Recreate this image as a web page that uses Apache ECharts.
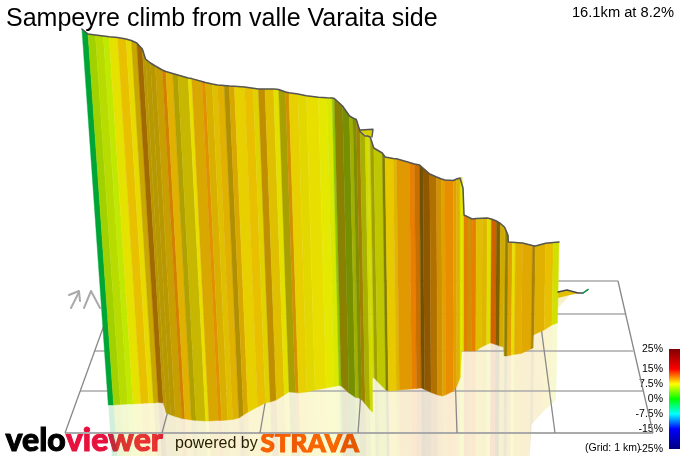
<!DOCTYPE html>
<html>
<head>
<meta charset="utf-8">
<title>Sampeyre climb</title>
<style>
  html, body { margin: 0; padding: 0; background: #fff; }
  #chart { width: 681px; height: 456px; }
</style>
<script src="https://cdn.jsdelivr.net/npm/echarts@6/dist/echarts.min.js"></script>
</head>
<body>
<div id="chart"></div>
<script>
// picture position of each wall station, measured along the row y = 280
const stationX = [99.5, 105, 112, 119.5, 125, 133, 141, 146, 151, 156, 158.5, 163, 167.5, 174, 177.3, 183.8, 188.7, 198.5, 201.8, 211.6, 214.9, 221.4, 226.3, 232.8, 237.7, 242.6, 252.4, 260.7, 265.6, 272, 280.3, 285.2, 291.7, 295, 303.5, 311.8, 323.3, 331.5, 336.5, 338.7, 346.4, 353, 356.2, 359.5, 362.9, 367.8, 370, 370.6, 372.7, 376, 384.2, 386.9, 394.8, 398, 410.6, 415.5, 420.5, 423.8, 430.4, 437, 442, 445.2, 453.4, 456.7, 460, 461.7, 463, 464, 468, 472, 476, 482, 487, 491, 496, 500, 504, 505, 507.5, 508, 512, 515, 522, 532, 533.7, 534, 535, 545, 552.7, 558.3]
const stationTop = [29, 34, 35, 36, 36.7, 37.5, 39, 40.5, 43, 49, 59, 63, 66, 70, 71.5, 73.5, 75, 78, 78.6, 81.5, 82.5, 84, 85, 85.5, 86, 86.2, 87, 88.2, 89, 89, 89, 89.5, 92, 92.8, 94, 95.8, 97.2, 97.8, 98, 98.5, 106, 116, 118, 119.5, 131.5, 136, 136, 136, 137, 148, 153, 157, 158.5, 158.8, 162.5, 164, 165, 168, 174, 177, 179, 180, 180.5, 179, 178, 177, 188, 215, 217, 219, 218.6, 218.2, 218, 219, 221, 223.5, 227, 228, 235, 242, 242.3, 242.5, 243, 245.5, 246, 246, 246, 243.3, 242.5, 242]
const stationBottom = [405, 405, 404.5, 404, 404, 403.5, 403, 403, 402.5, 403, 413, 415, 416.5, 418.5, 419, 420, 420.5, 421, 421, 420.5, 420.5, 420, 419.5, 418, 415, 412, 407, 403, 402, 400, 395, 392, 392.5, 393, 392, 390, 388, 386.5, 385.5, 386, 393, 397.5, 398, 400, 404, 410, 412, 378, 378, 382, 390, 391, 390.5, 390, 389, 388.5, 388, 389.5, 392.5, 395, 396, 395, 391, 386, 378, 351, 351, 351, 351, 351, 351, 347, 344.5, 343, 344.5, 346, 347, 356, 356, 356, 355, 354.5, 353.5, 349, 348, 335, 334.5, 330, 325, 323]
const reflectionBottom = [456, 456, 456, 456, 456, 456, 456, 456, 456, 456, 456, 456, 456, 456, 456, 456, 456, 456, 456, 456, 456, 456, 456, 456, 456, 456, 456, 456, 456, 456, 456, 456, 456, 456, 456, 456, 456, 456, 456, 456, 456, 456, 456, 456, 456, 456, 456, 456, 456, 456, 456, 456, 456, 456, 456, 456, 456, 456, 456, 456, 456, 456, 456, 456, 456, 456, 456, 456, 456, 456, 456, 456, 456, 456, 456, 456, 456, 456, 456, 456, 456, 456, 456, 456, 424, 424, 423, 412, 405, 400]
// gradient (%) and light on the strip that starts at each station
const stripGrade = [-2.4, 5.8, 6.3, 6.2, 7.6, 8.8, 8, 8.7, 10.1, 8.8, 8.8, 8.8, 9, 10.4, 9.1, 8.2, 8.1, 7.8, 9.2, 10.2, 8.9, 8.6, 9.1, 8.9, 9.2, 8.3, 8.8, 8, 9.4, 8.6, 7.6, 7.9, 9.8, 8.3, 7.9, 7.8, 7.4, 7, 5.4, 8, 6.2, 6.8, 6.7, 9, 7.2, 7.2, 7.2, 7.2, 7.5, 7.2, 7.5, 8.5, 8.9, 9.9, 10.9, 10.8, 9.6, 10.4, 10.2, 9.8, 9.6, 10.4, 9.6, 9.1, 7.5, 7.5, 7.5, 10.7, 9.8, 10.9, 8.6, 8.9, 7.5, 11.5, 9.4, 8.9, 8.9, 8.3, 8.3, 9.6, 7.8, 9.2, 9.4, 9.2, 9.2, 9.2, 9.1, 8.8, 7]
const stripLight = [0.65, 0.82, 0.86, 0.91, 0.9, 0.91, 0.91, 0.78, 0.63, 0.72, 0.72, 0.72, 0.78, 0.82, 0.88, 0.69, 0.78, 0.91, 0.85, 0.88, 0.85, 0.88, 0.88, 0.69, 0.85, 0.91, 0.91, 0.88, 0.75, 0.88, 0.89, 0.66, 0.82, 0.91, 0.89, 0.91, 0.91, 0.91, 0.78, 0.54, 0.56, 0.69, 0.56, 0.63, 0.69, 0.85, 0.85, 0.85, 0.63, 0.78, 0.5, 0.91, 0.88, 0.88, 0.91, 0.78, 0.44, 0.56, 0.69, 0.82, 0.88, 0.91, 0.88, 0.88, 0.88, 0.88, 0.88, 0.88, 0.82, 0.91, 0.88, 0.88, 0.88, 0.82, 0.5, 0.82, 0.82, 0.56, 0.56, 0.88, 0.91, 0.89, 0.88, 0.65, 0.65, 0.65, 0.88, 0.91, 0.88]

const wedgeX = [360, 373, 372, 367, 361]
const wedgeY = [130, 129.3, 137, 136, 131.5]
const tailX = [558, 567, 578, 583, 588]
const tailY = [292, 290, 293, 293, 289.5]
const tailFillX = [558, 567, 578, 570, 558]
const tailFillY = [292, 290.5, 293.5, 295, 298]
const tailReflectX = [558, 570, 558]
const tailReflectY = [298, 295, 308]

const gridBottomX = [65, 162, 260, 358, 457, 555, 653]
const gridTopX = [120, 203, 286, 369, 452, 535, 618]
const gridRowY = [433, 391, 351, 314, 281]
const gridRowLeft = [65, 80, 95, 108, 120]
const gridRowRight = [653, 643, 633, 625, 618]

const arrowStemX = [71, 79]
const arrowStemY = [308, 292]
const arrowHeadX = [69, 79, 80]
const arrowHeadY = [295, 291, 301]
const peakX = [84, 91, 100]
const peakY = [308, 291, 308]

const scaleGrades = [25, 15, 7.5, 0, -7.5, -15, -25]

// the wall strips lean towards a point far below the picture
const wallAt = (x, y) => 462 + (x - 462) * (5451 - y) / 5171

const gradeColor = (g, light) => {
  let r = 0
  let gr = 0
  let b = 0
  if (g >= 15) { r = 1 - (g - 15) / 20 }
  else if (g >= 7.5) { r = 1; gr = (15 - g) / 7.5 }
  else if (g >= 0) { r = g / 7.5; gr = 1 }
  else if (g >= -7.5) { gr = 1; b = -g / 7.5 }
  else if (g >= -15) { gr = (15 + g) / 7.5; b = 1 }
  else { b = 1 + (g + 15) / 20 }
  const c = v => Math.round(v * light * 255)
  return `rgb(${c(r)},${c(gr)},${c(b)})`
}

const stripRows = stripGrade.map((g, i) => [
  stationX[i], stationX[i + 1],
  stationTop[i], stationTop[i + 1],
  stationBottom[i], stationBottom[i + 1],
  reflectionBottom[i], reflectionBottom[i + 1],
  g, stripLight[i],
])

const quad = (api, xa, xb, ya, yb, yc, yd) => [
  api.coord([wallAt(xa, ya), ya]),
  api.coord([wallAt(xb, yb), yb]),
  api.coord([wallAt(xb, yc), yc]),
  api.coord([wallAt(xa, yd), yd]),
]

const renderWall = (params, api) => {
  const color = gradeColor(api.value(8), api.value(9))
  return {
    type: 'polygon',
    shape: { points: quad(api, api.value(0), api.value(1), api.value(2), api.value(3), api.value(5), api.value(4)) },
    style: { fill: color, stroke: color, lineWidth: 0.4 },
  }
}

const renderReflection = (params, api) => ({
  type: 'polygon',
  shape: { points: quad(api, api.value(0), api.value(1), api.value(4), api.value(5), api.value(7), api.value(6)) },
  style: { fill: gradeColor(api.value(8), api.value(9)), opacity: 0.18 },
})

const zip = (xs, ys) => xs.map((x, i) => [x, ys[i]])

const fillSeries = (xs, ys, fill) => ({
  type: 'custom',
  silent: true,
  data: [0],
  renderItem: (params, api) => ({
    type: 'polygon',
    shape: { points: zip(xs, ys).map(p => api.coord(p)) },
    style: { fill },
  }),
})

const lineSeries = (data, color, width) => ({
  type: 'line',
  silent: true,
  symbol: 'none',
  data,
  lineStyle: { color, width, cap: 'round', join: 'round' },
})

const gridLines = [
  ...gridRowY.map((y, i) => ({ a: [gridRowLeft[i], y], b: [gridRowRight[i], y], color: '#aaa', width: i === 0 ? 2 : 1.6 })),
  ...gridBottomX.map((x, i) => ({ a: [x, gridRowY[0]], b: [gridTopX[i], gridRowY[4]], color: '#888', width: 1.3 })),
]

const colorStops = scaleGrades.map(g => ({ offset: (25 - g) / 50, color: gradeColor(g, 1) }))

const option = {
  animation: false,
  backgroundColor: '#fff',
  title: [
    {
      text: 'Sampeyre climb from valle Varaita side',
      left: 6,
      top: 7,
      padding: 0,
      textStyle: { fontFamily: 'Liberation Sans', fontSize: 25, fontWeight: 'normal', color: '#000' },
    },
    {
      text: '16.1km at 8.2%',
      right: 7,
      top: 5,
      padding: 0,
      textStyle: { fontFamily: 'Liberation Sans', fontSize: 14.7, fontWeight: 'normal', color: '#000' },
    },
  ],
  grid: [
    { left: 0, right: 0, top: 0, bottom: 0 },
    { left: 669, width: 11, top: 349, height: 100 },
  ],
  xAxis: [
    { type: 'value', min: 0, max: 681, show: false },
    { type: 'value', gridIndex: 1, min: 0, max: 1, show: false },
  ],
  yAxis: [
    { type: 'value', min: 0, max: 456, inverse: true, show: false },
    {
      type: 'value',
      gridIndex: 1,
      min: -25,
      max: 25,
      axisLine: { show: false },
      axisTick: { show: false },
      splitLine: { show: false },
      axisLabel: {
        customValues: scaleGrades,
        margin: 6,
        formatter: v => `${v}%`,
        fontFamily: 'Liberation Sans',
        fontSize: 10.5,
        color: '#000',
      },
    },
  ],
  series: [
    { type: 'custom', silent: true, clip: false, data: stripRows, renderItem: renderReflection },
    {
      type: 'custom',
      silent: true,
      data: gridLines,
      renderItem: (params) => {
        const l = gridLines[params.dataIndex]
        return {
          type: 'line',
          shape: { x1: l.a[0], y1: l.a[1], x2: l.b[0], y2: l.b[1] },
          style: { stroke: l.color, lineWidth: l.width },
        }
      },
    },
    lineSeries(zip(arrowStemX, arrowStemY), '#aaa', 2),
    lineSeries(zip(arrowHeadX, arrowHeadY), '#aaa', 2),
    lineSeries(zip(peakX, peakY), '#aaa', 2),
    fillSeries(tailReflectX, tailReflectY, '#f6f1c8'),
    fillSeries(tailFillX, tailFillY, '#e0c000'),
    lineSeries(zip(tailX, tailY), '#444', 1.3),
    lineSeries(zip(tailX.slice(3), tailY.slice(3)), '#10a050', 1.5),
    fillSeries(wedgeX, wedgeY, '#d8d000'),
    lineSeries(zip(wedgeX.slice(0, 3), wedgeY.slice(0, 3)), '#555', 1.4),
    { type: 'custom', silent: true, clip: false, data: stripRows, renderItem: renderWall },
    lineSeries(stationX.map((x, i) => [wallAt(x, stationTop[i]), stationTop[i]]), '#555', 1.5),
    {
      type: 'custom',
      silent: true,
      xAxisIndex: 1,
      yAxisIndex: 1,
      data: [[0, 1, -25, 25]],
      renderItem: (params, api) => {
        const a = api.coord([api.value(0), api.value(3)])
        const b = api.coord([api.value(1), api.value(2)])
        return {
          type: 'rect',
          shape: { x: a[0], y: a[1], width: b[0] - a[0], height: b[1] - a[1] },
          style: { fill: new echarts.graphic.LinearGradient(0, 0, 0, 1, colorStops) },
        }
      },
    },
  ],
  graphic: [
    {
      type: 'text',
      left: 585,
      top: 443,
      style: { text: '(Grid: 1 km)', font: '10.5px "Liberation Sans"', fill: '#000' },
    },
    {
      type: 'text',
      left: 5,
      top: 424,
      style: {
        text: '{a|velo}{b|viewer}',
        rich: {
          a: { font: '900 32px Lato', fill: '#000', stroke: '#000', lineWidth: 1 },
          b: { font: '900 32px Lato', fill: '#e8103c', stroke: '#e8103c', lineWidth: 1 },
        },
      },
    },
    {
      type: 'text',
      left: 175,
      top: 436,
      style: { text: 'powered by', font: '16px "Liberation Sans"', fill: '#000' },
    },
    {
      type: 'text',
      left: 260,
      top: 430,
      style: { text: 'STRAVA', font: '900 26px Lato', fill: '#fc4c02', stroke: '#fc4c02', lineWidth: 1 },
    },
  ],
}

const chart = echarts.init(document.getElementById('chart'))
chart.setOption(option)
</script>
</body>
</html>
